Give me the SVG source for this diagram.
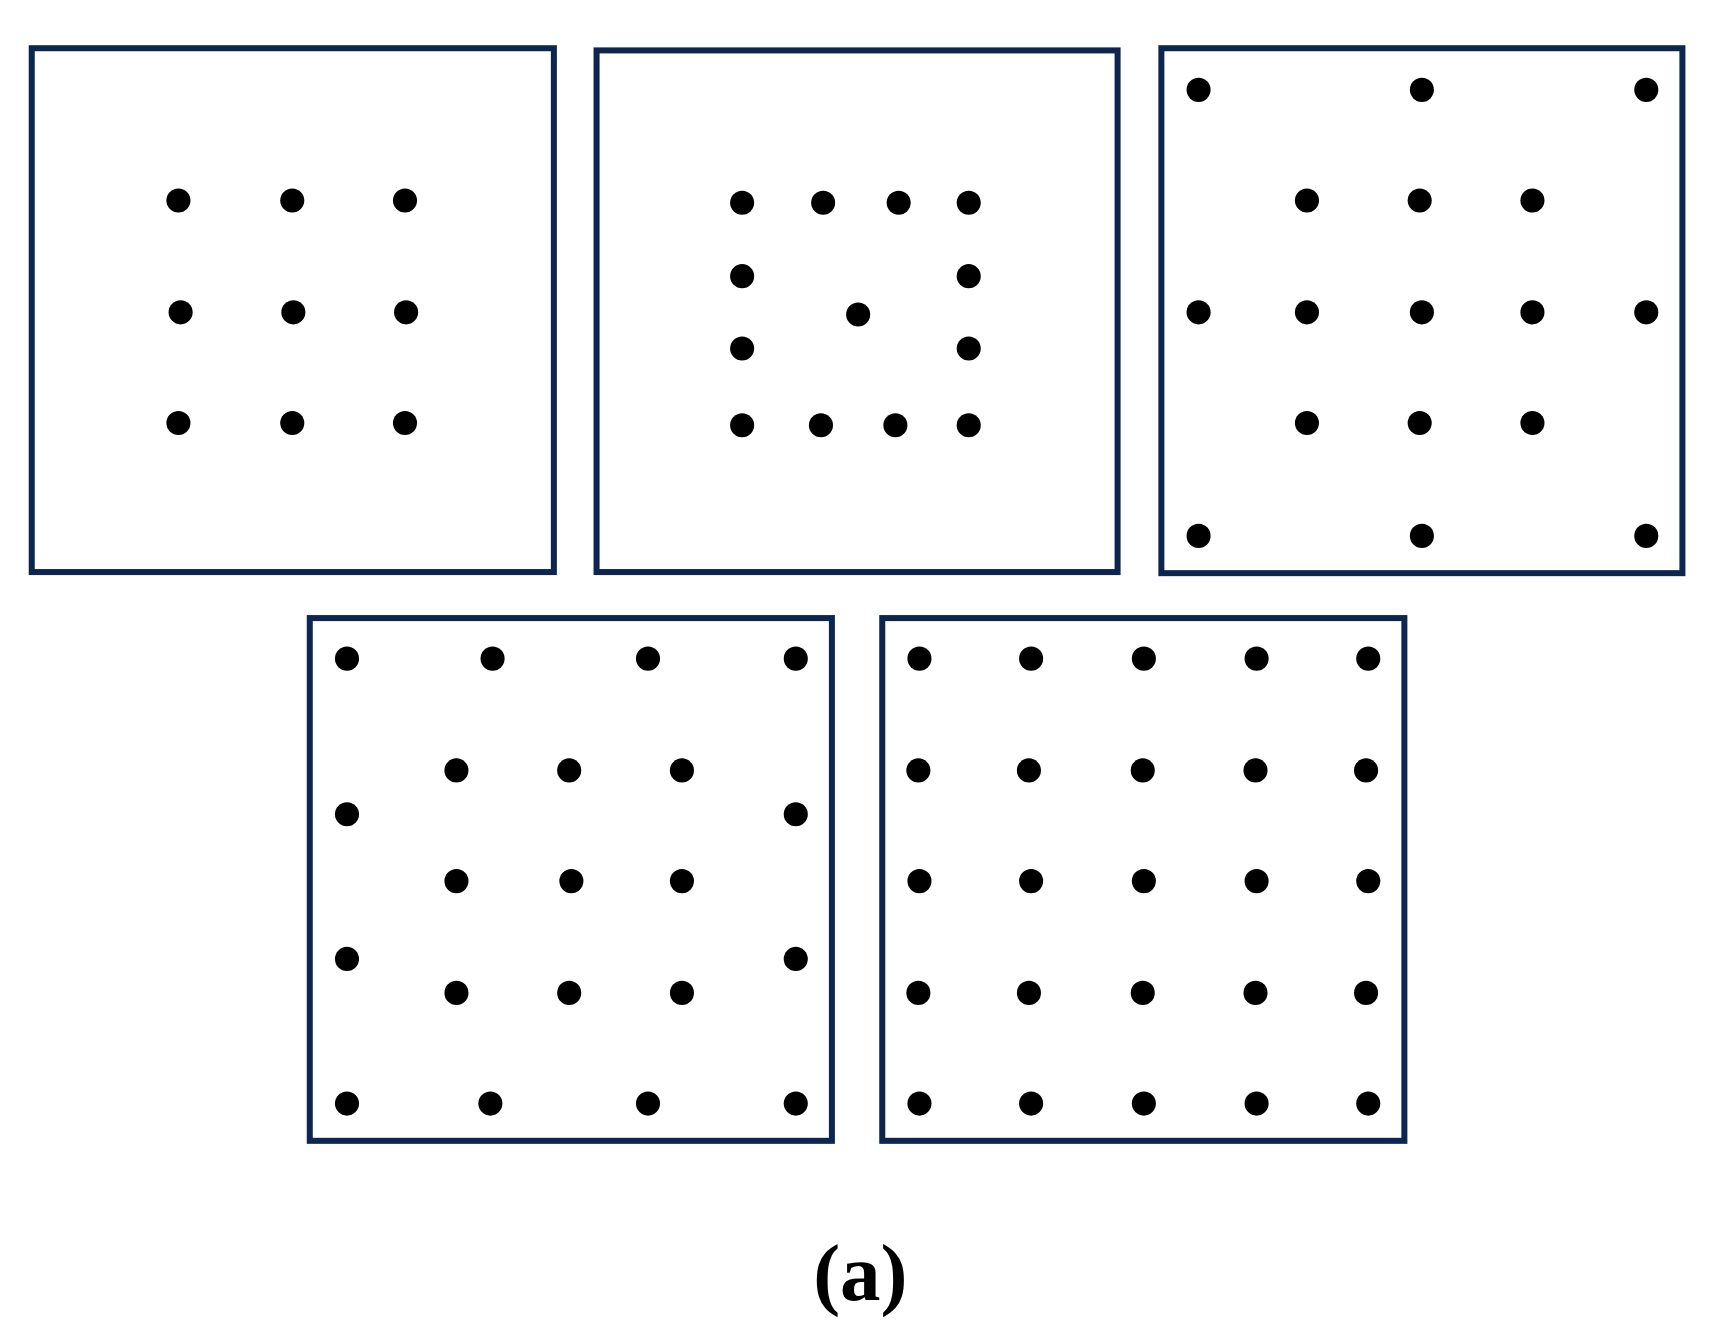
<svg xmlns="http://www.w3.org/2000/svg" width="1713" height="1337" viewBox="0 0 1713 1337">
<style>.b{fill:none;stroke:#0c2650;stroke-width:5.5}circle{fill:#000}text{font-family:"Liberation Serif",serif;font-weight:bold;font-size:74px}</style>
<rect width="1713" height="1337" fill="#fff"/>
<g transform="scale(1.0946,1.0959)">
<g id="p1"><rect class="b" x="29" y="44" width="477" height="478"/>
<circle cx="163" cy="183" r="11"/><circle cx="267" cy="183" r="11"/><circle cx="370" cy="183" r="11"/>
<circle cx="165" cy="285" r="11"/><circle cx="268" cy="285" r="11"/><circle cx="371" cy="285" r="11"/>
<circle cx="163" cy="386" r="11"/><circle cx="267" cy="386" r="11"/><circle cx="370" cy="386" r="11"/></g>
<g id="p2"><rect class="b" x="545" y="46" width="476" height="476"/>
<circle cx="678" cy="185" r="11"/><circle cx="752" cy="185" r="11"/><circle cx="821" cy="185" r="11"/><circle cx="885" cy="185" r="11"/>
<circle cx="678" cy="252" r="11"/><circle cx="885" cy="252" r="11"/><circle cx="784" cy="287" r="11"/>
<circle cx="678" cy="318" r="11"/><circle cx="885" cy="318" r="11"/>
<circle cx="678" cy="388" r="11"/><circle cx="750" cy="388" r="11"/><circle cx="818" cy="388" r="11"/><circle cx="885" cy="388" r="11"/></g>
<g id="p3"><rect class="b" x="1061" y="44" width="476" height="479"/>
<circle cx="1095" cy="82" r="11"/><circle cx="1299" cy="82" r="11"/><circle cx="1504" cy="82" r="11"/>
<circle cx="1194" cy="183" r="11"/><circle cx="1297" cy="183" r="11"/><circle cx="1400" cy="183" r="11"/>
<circle cx="1095" cy="285" r="11"/><circle cx="1194" cy="285" r="11"/><circle cx="1299" cy="285" r="11"/><circle cx="1400" cy="285" r="11"/><circle cx="1504" cy="285" r="11"/>
<circle cx="1194" cy="386" r="11"/><circle cx="1297" cy="386" r="11"/><circle cx="1400" cy="386" r="11"/>
<circle cx="1095" cy="489" r="11"/><circle cx="1299" cy="489" r="11"/><circle cx="1504" cy="489" r="11"/></g>
<g id="p4"><rect class="b" x="283" y="564" width="477" height="477"/>
<circle cx="317" cy="601" r="11"/><circle cx="450" cy="601" r="11"/><circle cx="592" cy="601" r="11"/><circle cx="727" cy="601" r="11"/>
<circle cx="417" cy="703" r="11"/><circle cx="520" cy="703" r="11"/><circle cx="623" cy="703" r="11"/>
<circle cx="317" cy="743" r="11"/><circle cx="727" cy="743" r="11"/>
<circle cx="417" cy="804" r="11"/><circle cx="522" cy="804" r="11"/><circle cx="623" cy="804" r="11"/>
<circle cx="317" cy="875" r="11"/><circle cx="727" cy="875" r="11"/>
<circle cx="417" cy="906" r="11"/><circle cx="520" cy="906" r="11"/><circle cx="623" cy="906" r="11"/>
<circle cx="317" cy="1007" r="11"/><circle cx="448" cy="1007" r="11"/><circle cx="592" cy="1007" r="11"/><circle cx="727" cy="1007" r="11"/></g>
<g id="p5"><rect class="b" x="806" y="564" width="477" height="477"/>
<g><circle cx="840" cy="601" r="11"/><circle cx="942" cy="601" r="11"/><circle cx="1045" cy="601" r="11"/><circle cx="1148" cy="601" r="11"/><circle cx="1250" cy="601" r="11"/></g>
<g><circle cx="839" cy="703" r="11"/><circle cx="940" cy="703" r="11"/><circle cx="1044" cy="703" r="11"/><circle cx="1147" cy="703" r="11"/><circle cx="1248" cy="703" r="11"/></g>
<g><circle cx="840" cy="804" r="11"/><circle cx="942" cy="804" r="11"/><circle cx="1045" cy="804" r="11"/><circle cx="1148" cy="804" r="11"/><circle cx="1250" cy="804" r="11"/></g>
<g><circle cx="839" cy="906" r="11"/><circle cx="940" cy="906" r="11"/><circle cx="1044" cy="906" r="11"/><circle cx="1147" cy="906" r="11"/><circle cx="1248" cy="906" r="11"/></g>
<g><circle cx="840" cy="1007" r="11"/><circle cx="942" cy="1007" r="11"/><circle cx="1045" cy="1007" r="11"/><circle cx="1148" cy="1007" r="11"/><circle cx="1250" cy="1007" r="11"/></g></g>
<g id="connectors"/>
<text x="786" y="1186" text-anchor="middle">(a)</text>
</g>
</svg>
